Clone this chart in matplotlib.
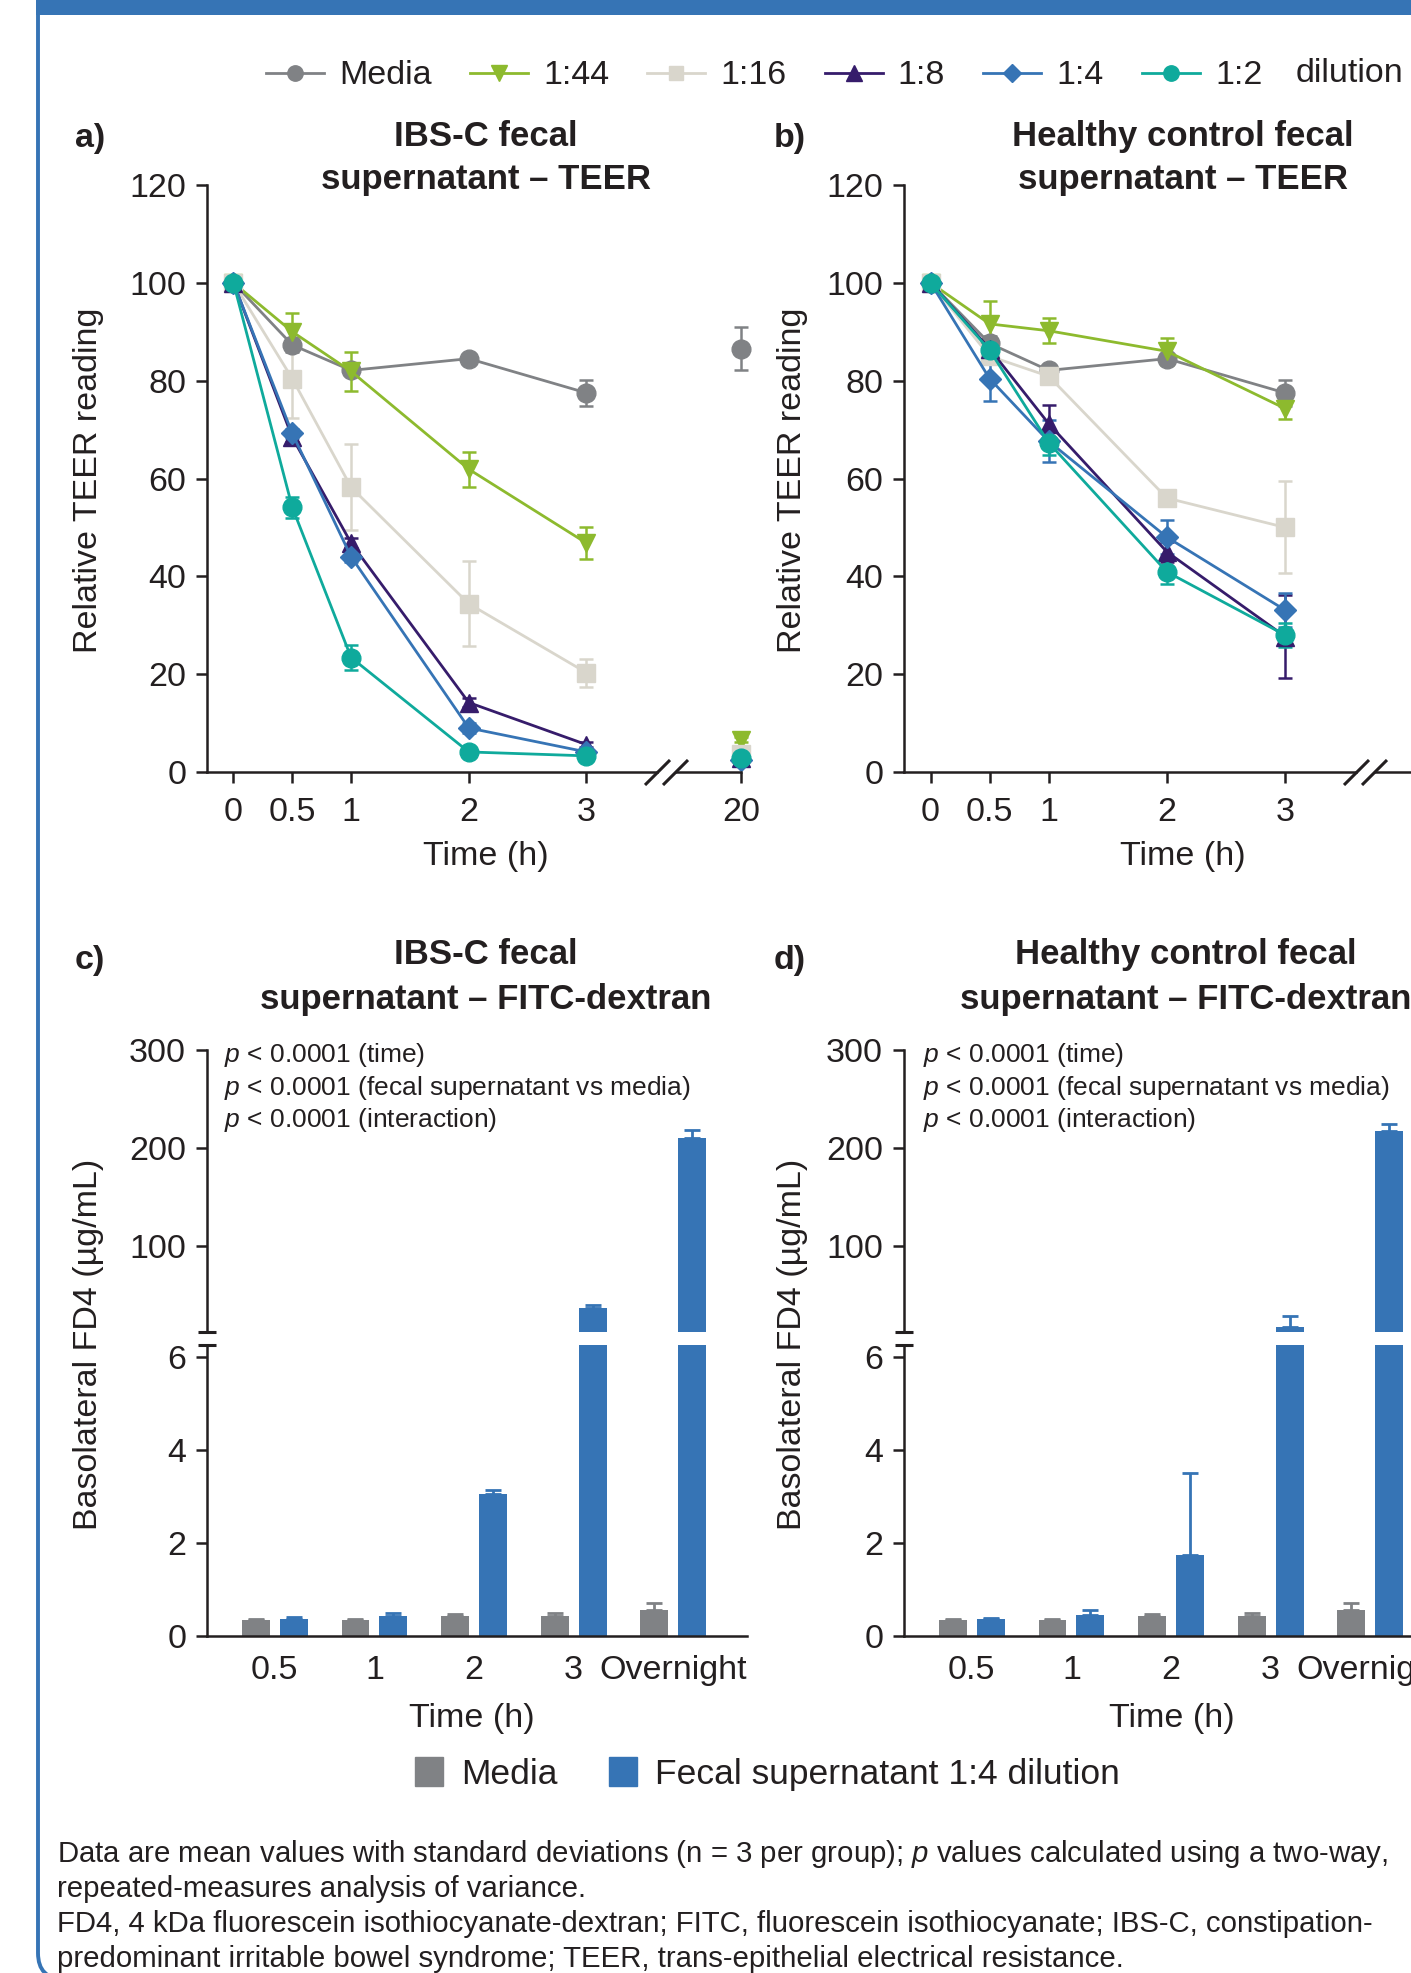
import numpy as np
import matplotlib
matplotlib.use('Agg')
import matplotlib.pyplot as plt
from matplotlib.lines import Line2D
from matplotlib.patches import Patch, Rectangle, FancyBboxPatch
from matplotlib.transforms import IdentityTransform

plt.rcParams['font.family'] = ['Liberation Sans', 'DejaVu Sans']
plt.rcParams['mathtext.fontset'] = 'custom'
plt.rcParams['mathtext.it'] = 'Liberation Sans:italic'
plt.rcParams['mathtext.rm'] = 'Liberation Sans'

# ---- data: TEER (relative reading, %) ----
times = [0, 0.5, 1, 2, 3]
late_time = [20]
dilutions = ['Media', '1:44', '1:16', '1:8', '1:4', '1:2']

ibs_teer = {
    'Media': [100, 87.3, 82.1, 84.5, 77.5],
    '1:44': [100, 90.0, 81.9, 61.9, 46.8],
    '1:16': [100, 80.4, 58.2, 34.4, 20.3],
    '1:8': [100, 68.4, 46.8, 14.2, 5.6],
    '1:4': [100, 69.2, 44.0, 9.0, 4.1],
    '1:2': [100, 54.1, 23.4, 4.1, 3.3],
}
ibs_teer_sd = {
    'Media': [0.5, 1.5, 1.0, 1.0, 2.7],
    '1:44': [0.5, 3.8, 4.0, 3.6, 3.2],
    '1:16': [0.5, 8.0, 8.8, 8.7, 2.9],
    '1:8': [0.5, 1.0, 1.0, 1.0, 0.5],
    '1:4': [0.5, 1.0, 1.0, 1.0, 0.5],
    '1:2': [0.5, 2.2, 2.5, 0.5, 0.5],
}
ibs_teer_20h = {'Media': 86.5, '1:44': 6.6, '1:16': 3.6, '1:8': 2.9, '1:4': 2.5, '1:2': 2.8}
ibs_teer_20h_sd = {'Media': 4.4, '1:44': 0.5, '1:16': 0.5, '1:8': 0.3, '1:4': 0.3, '1:2': 0.3}

hc_teer = {
    'Media': [100, 87.6, 82.1, 84.5, 77.5],
    '1:44': [100, 91.6, 90.2, 86.0, 74.3],
    '1:16': [100, 85.0, 80.9, 56.0, 50.0],
    '1:8': [100, 86.5, 71.2, 45.0, 27.7],
    '1:4': [100, 80.4, 67.6, 48.0, 33.1],
    '1:2': [100, 86.2, 67.3, 40.9, 28.0],
}
hc_teer_sd = {
    'Media': [0.5, 1.5, 1.0, 1.0, 2.7],
    '1:44': [0.5, 4.6, 2.6, 2.7, 2.1],
    '1:16': [0.5, 1.0, 1.0, 1.0, 9.4],
    '1:8': [0.5, 2.0, 3.8, 2.0, 8.4],
    '1:4': [0.5, 4.6, 4.3, 3.5, 3.5],
    '1:2': [0.5, 1.5, 2.5, 2.5, 2.5],
}

# ---- data: basolateral FD4 (ug/mL) ----
fd4_groups = ['0.5', '1', '2', '3', 'Overnight']
ibs_fd4_media = [0.35, 0.35, 0.42, 0.43, 0.56]
ibs_fd4_media_sd = [0.02, 0.02, 0.06, 0.07, 0.14]
ibs_fd4_fecal = [0.37, 0.43, 3.06, 37, 210]
ibs_fd4_fecal_sd = [0.04, 0.07, 0.08, 2.5, 8]
hc_fd4_media = [0.35, 0.35, 0.43, 0.43, 0.56]
hc_fd4_media_sd = [0.02, 0.02, 0.05, 0.07, 0.14]
hc_fd4_fecal = [0.37, 0.45, 1.75, 17, 217]
hc_fd4_fecal_sd = [0.02, 0.12, 1.75, 11, 7]

BLUE = '#3674b5'
GRAY = '#808285'
styles = {
    'Media': dict(color='#808285', marker='o', ms=13.5),
    '1:44': dict(color='#8dba2e', marker='v', ms=13.5),
    '1:16': dict(color='#d9d6cc', marker='s', ms=12.5),
    '1:8': dict(color='#361c6b', marker='^', ms=13.5),
    '1:4': dict(color='#3674b5', marker='D', ms=11),
    '1:2': dict(color='#0faa9c', marker='o', ms=13.5),
}

W, H = 1411, 1973
fig = plt.figure(figsize=(W / 100, H / 100), dpi=100)
FS = 24.5
INK = '#231f20'


def rect(x0, x1, y0, y1):
    # pixel box (from top-left) -> figure fraction
    return [x0 / W, 1 - y1 / H, (x1 - x0) / W, (y1 - y0) / H]


def px_line(x0, y0, x1, y1, color=INK, lw=2.2):
    fig.add_artist(Line2D([x0 / W, x1 / W], [1 - y0 / H, 1 - y1 / H],
                          transform=fig.transFigure, color=color, lw=lw,
                          solid_capstyle='butt'))


def style_axis(ax):
    for s in ['top', 'right']:
        ax.spines[s].set_visible(False)
    for s in ['left', 'bottom']:
        ax.spines[s].set_linewidth(1.8)
        ax.spines[s].set_color(INK)
    ax.tick_params(labelsize=FS, width=1.8, length=8, color=INK, labelcolor=INK)
    ax.tick_params(axis='y', pad=7)


def teer_panel(x_axis, x_break, x_end2, data, sd, late=None, late_sd=None):
    ax = fig.add_axes(rect(x_axis, x_break, 185, 772))
    ax2 = fig.add_axes(rect(x_break + 19, x_end2, 185, 772))
    style_axis(ax)
    style_axis(ax2)
    ax2.spines['left'].set_visible(False)
    ax2.tick_params(axis='y', left=False, labelleft=False)
    ax2.patch.set_alpha(0)
    for name in dilutions:
        st = styles[name]
        ax.errorbar(times, data[name], yerr=sd[name], color=st['color'], lw=2,
                    marker=st['marker'], ms=st['ms'], elinewidth=1.8, capsize=5,
                    capthick=1.8, clip_on=False)
        if late is not None:
            ax2.errorbar(late_time, [late[name]], yerr=[late_sd[name]], color=st['color'],
                         marker=st['marker'], ms=st['ms'], elinewidth=1.8, capsize=5,
                         capthick=1.8, ls='none', clip_on=False)
    ax.set_xlim(-0.225, 3.6)
    ax.set_ylim(0, 120)
    ax.set_xticks(times)
    ax.set_xticklabels(['0', '0.5', '1', '2', '3'])
    ax.set_yticks(range(0, 121, 20))
    ax2.set_xlim(19.45, 20.0)
    ax2.set_ylim(0, 120)
    if late is not None:
        ax2.set_xticks(late_time)
    else:
        ax2.set_xticks([])
    ax.tick_params(axis='x', pad=10)
    ax2.tick_params(axis='x', pad=10)
    # axis break marks
    for dx in (0, 18):
        px_line(x_break - 12 + dx, 785, x_break + 13 + dx, 760, lw=2.2)
    return ax, ax2


def fd4_panel(x_axis, media, media_sd, fecal, fecal_sd):
    ax_top = fig.add_axes(rect(x_axis, x_axis + 540, 1050, 1332))
    ax_bot = fig.add_axes(rect(x_axis, x_axis + 540, 1345, 1636))
    pos = np.arange(len(fd4_groups))
    for ax in (ax_top, ax_bot):
        style_axis(ax)
        ax.bar(pos - 0.19, media, 0.28, color=GRAY,
               yerr=[np.zeros(len(media)), media_sd],
               error_kw=dict(ecolor=GRAY, elinewidth=2, capsize=6, capthick=2))
        ax.bar(pos + 0.19, fecal, 0.28, color=BLUE,
               yerr=[np.zeros(len(fecal)), fecal_sd],
               error_kw=dict(ecolor=BLUE, elinewidth=2, capsize=6, capthick=2))
        ax.set_xlim(-0.68, 4.74)
    ax_top.set_ylim(12, 300)
    ax_top.set_yticks([100, 200, 300])
    ax_top.spines['bottom'].set_visible(False)
    ax_top.tick_params(axis='x', bottom=False, labelbottom=False)
    ax_bot.set_ylim(0, 6.26)
    ax_bot.set_yticks([0, 2, 4, 6])
    ax_bot.set_xticks(pos)
    ax_bot.set_xticklabels(fd4_groups)
    ax_bot.tick_params(axis='x', length=0, pad=14)
    # y-axis break marks
    px_line(x_axis - 9, 1332, x_axis + 9, 1332)
    px_line(x_axis - 9, 1345, x_axis + 9, 1345)
    return ax_top, ax_bot


teer_panel(207, 657, 741, ibs_teer, ibs_teer_sd, ibs_teer_20h, ibs_teer_20h_sd)
teer_panel(904, 1356, 1440, hc_teer, hc_teer_sd)
fd4_panel(207, ibs_fd4_media, ibs_fd4_media_sd, ibs_fd4_fecal, ibs_fd4_fecal_sd)
fd4_panel(904, hc_fd4_media, hc_fd4_media_sd, hc_fd4_fecal, hc_fd4_fecal_sd)


def ftext(x, y, s, **kw):
    kw.setdefault('fontsize', FS)
    kw.setdefault('color', INK)
    fig.text(x / W, 1 - y / H, s, **kw)


# panel letters and titles
for letter, x, y in [('a)', 75, 139), ('b)', 774, 139), ('c)', 75, 960), ('d)', 774, 960)]:
    ftext(x, y, letter, fontweight='bold', va='center')
TS = 25
ftext(486, 158, 'IBS-C fecal\nsupernatant \u2013 TEER', fontweight='bold', fontsize=TS,
      ha='center', va='center', linespacing=1.4)
ftext(1183, 158, 'Healthy control fecal\nsupernatant \u2013 TEER', fontweight='bold', fontsize=TS,
      ha='center', va='center', linespacing=1.4)
ftext(486, 977, 'IBS-C fecal\nsupernatant \u2013 FITC-dextran', fontweight='bold', fontsize=TS,
      ha='center', va='center', linespacing=1.45)
ftext(1186, 977, 'Healthy control fecal\nsupernatant \u2013 FITC-dextran', fontweight='bold', fontsize=TS,
      ha='center', va='center', linespacing=1.45)

# axis labels
for x in (89, 793):
    ftext(x, 480, 'Relative TEER reading', rotation=90, ha='center', va='center')
    ftext(x, 1344, 'Basolateral FD4 (\u00b5g/mL)', rotation=90, ha='center', va='center')
for x in (486, 1183):
    ftext(x, 857, 'Time (h)', ha='center', va='center')
for x in (472, 1172):
    ftext(x, 1719, 'Time (h)', ha='center', va='center')

# p-value annotations
p_lines = ['$p$ < 0.0001 (time)', '$p$ < 0.0001 (fecal supernatant vs media)',
           '$p$ < 0.0001 (interaction)']
for x in (224, 923):
    for i, s in enumerate(p_lines):
        ftext(x, 1055 + i * 32.5, s, fontsize=19, va='center')

# top legend
handles = [Line2D([], [], color=styles[n]['color'], marker=styles[n]['marker'],
                  ms=styles[n]['ms'] * 0.82, lw=2) for n in dilutions]
fig.legend(handles, dilutions, loc='center left', bbox_to_anchor=(266 / W, 1 - 76 / H),
           ncol=6, frameon=False, fontsize=FS, handlelength=1.7, handletextpad=0.45,
           columnspacing=1.12, borderaxespad=0, borderpad=0, labelcolor=INK)
ftext(1296, 74, 'dilution', va='center')

# bottom legend
bar_handles = [Patch(color=GRAY), Patch(color=BLUE)]
fig.legend(bar_handles, ['Media', 'Fecal supernatant 1:4 dilution'], loc='center left',
           bbox_to_anchor=(415 / W, 1 - 1774 / H), ncol=2, frameon=False, fontsize=25.5,
           handlelength=0.8, handleheight=0.85, handletextpad=0.5, columnspacing=1.45,
           borderaxespad=0, borderpad=0, labelcolor=INK)

# footnote
notes = ['Data are mean values with standard deviations (n = 3 per group); $p$ values calculated using a two-way,',
         'repeated-measures analysis of variance.',
         'FD4, 4 kDa fluorescein isothiocyanate-dextran; FITC, fluorescein isothiocyanate; IBS-C, constipation-',
         'predominant irritable bowel syndrome; TEER, trans-epithelial electrical resistance.']
for i, s in enumerate(notes):
    ftext(57, 1854 + i * 35, s, fontsize=21.2, va='center')

# frame: blue header band and rounded left border
fig.add_artist(Rectangle((36, H - 15), W, 20, transform=IdentityTransform(),
                         color=BLUE, lw=0))
fig.add_artist(FancyBboxPatch((38, -6), 2000, H + 100, boxstyle='round,pad=0,rounding_size=26',
                              transform=IdentityTransform(), fill=False, ec=BLUE, lw=2.8))

fig.savefig('out.png', dpi=100)
